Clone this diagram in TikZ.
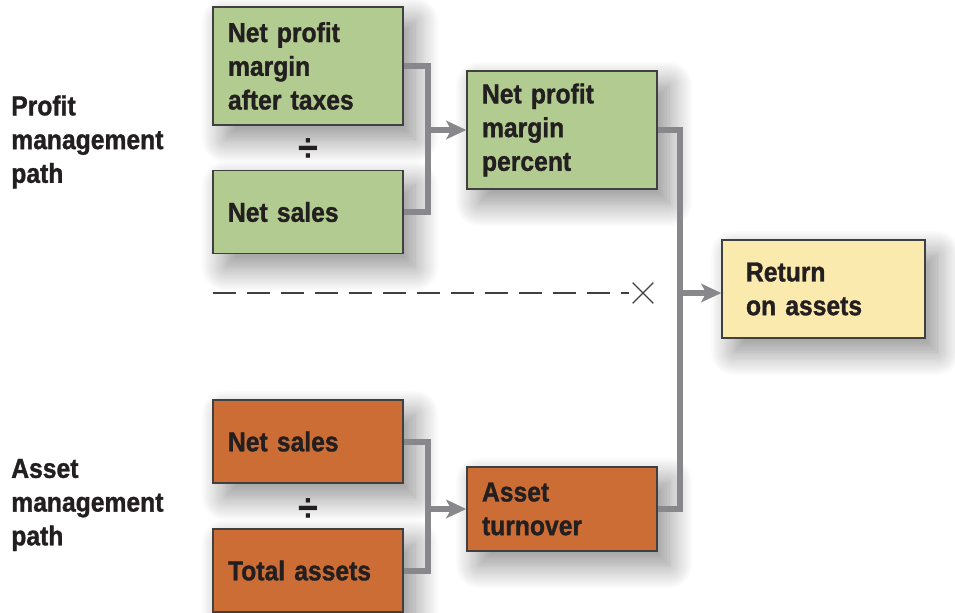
\documentclass[tikz,border=0pt]{standalone}
\usepackage{fontspec}
\setmainfont{Liberation Sans}[FakeStretch=0.92]
\newfontfamily\heavy{Liberation Sans}[FakeStretch=0.9, FakeBold=1.2]
\usepackage{tikz}
\usetikzlibrary{positioning}
\usetikzlibrary{arrows.meta, shapes.misc, shadows.blur}
\definecolor{grn}{RGB}{178,203,145}
\definecolor{org}{RGB}{204,109,53}
\definecolor{ylw}{RGB}{251,234,174}
\definecolor{lne}{RGB}{136,136,140}
\definecolor{txt}{RGB}{35,31,32}

\begin{document}
\begin{tikzpicture}[x=0.25mm, y=-0.25mm,
    main/.style = {rectangle, draw=black!75, line width=0.35mm, text=txt, align=left,
        font=\heavy\bfseries\fontsize{19.5}{24}\selectfont, text width=40mm, inner xsep=3.75mm,
        inner ysep=0pt, minimum height=20.75mm,
        blur shadow={shadow xshift=3mm, shadow yshift=-3.5mm, shadow blur radius=6mm,
            shadow blur steps=20, shadow opacity=45}},
    tall/.style = {minimum height=29.5mm},
    label/.style = {text=txt, align=left, font=\heavy\bfseries\fontsize{19.5}{24}\selectfont, inner sep=0pt},
    conn/.style = {draw=lne, line width=1.5mm},
    arr/.style = {conn, -{Stealth[length=5mm, width=4.6mm, inset=1.2mm]}},
    dashline/.style = {draw=black!75, line width=0.4mm, dash pattern=on 5.75mm off 2.75mm}]
    \useasboundingbox (0,0) rectangle (955,613);
    % profit management path
    \node[main, tall, fill=grn] (1) at (308,66) {Net profit\\margin\\after taxes};
    \node[main, fill=grn] (2) at (308,212) {Net sales};
    \node[label, font=\bfseries\fontsize{28}{28}\selectfont] (d1) at (308,150) {÷};
    \node[main, tall, fill=grn] (3) at (562,130) {Net profit\\margin\\percent};
    \node[main, fill=ylw, text width=38.75mm, inner xsep=6mm, minimum height=24.5mm] (4) at (823.5,289) {Return\\on assets};
    % asset management path
    \node[main, fill=org] (5) at (308,441.5) {Net sales};
    \node[label, font=\bfseries\fontsize{28}{28}\selectfont] (d2) at (308,510) {÷};
    \node[main, fill=org] (6) at (308,570.5) {Total assets};
    \node[main, fill=org, minimum height=21mm] (7) at (562,509) {Asset\\turnover};
    \node[label, anchor=west] (p) at (11,142) {Profit\\management\\path};
    \node[label, anchor=west] (q) at (11,505) {Asset\\management\\path};
    % connectors
    \coordinate (a) at (428,130);
    \coordinate (b) at (680,293);
    \coordinate (c) at (428,509);
    \draw[conn] (1.east) -| (a) |- (2.east);
    \draw[arr] (a) -- (3.west);
    \draw[conn] (5.east) -| (c) |- (6.east);
    \draw[arr] (c) -- (7.west);
    \draw[conn] (3.east) -| (b) |- (7.east);
    \draw[arr] (b) -- (b -| 4.west);
    % dashed divider
    \coordinate (e) at (213,293);
    \node[cross out, draw=black!75, line width=0.35mm, minimum size=4.8mm, inner sep=0pt] (x) at (643,293) {};
    \draw[dashline] (e) -- ([xshift=-1mm]x.west);
\end{tikzpicture}
\end{document}
